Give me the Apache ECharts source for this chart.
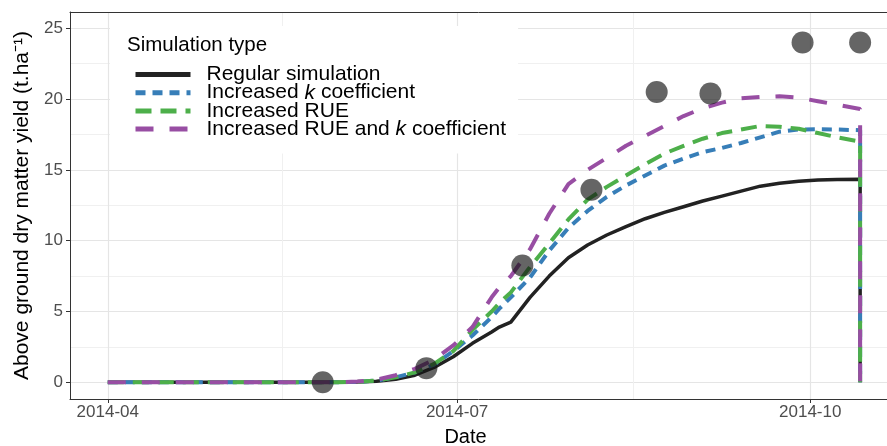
<!DOCTYPE html>
<html>
<head>
<meta charset="utf-8">
<script src="https://cdn.jsdelivr.net/npm/echarts@6/dist/echarts.min.js"></script>
<style>
html,body{margin:0;padding:0;background:#fff;}
#chart{width:887px;height:446px;}
</style>
</head>
<body>
<div id="chart"></div>
<script>
// ---- data ----
const simDates = ['2014-04-01','2014-04-11','2014-04-21','2014-05-01','2014-05-11','2014-05-21','2014-05-31','2014-06-05','2014-06-10','2014-06-15','2014-06-20','2014-06-25','2014-06-30','2014-07-05','2014-07-10','2014-07-12','2014-07-15','2014-07-20','2014-07-25','2014-07-30','2014-08-04','2014-08-09','2014-08-14','2014-08-19','2014-08-24','2014-08-29','2014-09-03','2014-09-08','2014-09-13','2014-09-18','2014-09-23','2014-09-28','2014-10-03','2014-10-08','2014-10-14','2014-10-14'];
const regularSim = [0,0,0,0,0,0,0,0.02,0.08,0.22,0.5,1.05,1.8,2.75,3.55,3.9,4.25,6.0,7.5,8.8,9.7,10.4,11.0,11.55,12.0,12.4,12.8,13.15,13.5,13.85,14.05,14.2,14.28,14.32,14.33,0];
const increasedK = [0,0,0,0,0,0,0,0.03,0.12,0.35,0.7,1.25,2.2,3.3,4.6,5.2,6.0,7.4,9.3,10.9,12.1,13.1,13.9,14.6,15.3,15.8,16.25,16.55,16.9,17.3,17.7,17.85,17.87,17.85,17.8,0];
const increasedRUE = [0,0,0,0,0,0,0,0.03,0.12,0.35,0.7,1.3,2.2,3.7,5.0,5.6,6.35,8.15,9.8,11.5,12.9,13.8,14.6,15.4,16.15,16.7,17.2,17.6,17.85,18.1,18.05,17.9,17.6,17.3,17.0,0];
const increasedRUEandK = [0,0,0,0,0,0,0,0.05,0.18,0.5,0.95,1.6,2.6,3.9,6.0,6.7,7.5,9.4,11.9,14.0,15.0,15.85,16.7,17.4,18.1,18.8,19.35,19.75,20.05,20.15,20.2,20.1,19.85,19.6,19.3,0];
const obsDates = ['2014-05-27','2014-06-23','2014-07-18','2014-08-05','2014-08-22','2014-09-05','2014-09-29','2014-10-14'];
const obsValues = [0, 1.0, 8.25, 13.6, 20.5, 20.4, 24.0, 24.0];
const seriesNames = ['Regular simulation','Increased k coefficient','Increased RUE','Increased RUE and k coefficient'];
const xTickLabels = ['2014-04','2014-07','2014-10'];
const yTickValues = [0,5,10,15,20,25];

// ---- helpers ----
const origin = Date.UTC(2014,3,1);
function dayOf(s){const p=s.split('-').map(Number);return (Date.UTC(p[0],p[1]-1,p[2]||1)-origin)/86400000;}
const xTickValues = xTickLabels.map(dayOf);
const xMinor = xTickValues.slice(1).map((v,i)=>(v+xTickValues[i])/2);
const yMinor = yTickValues.slice(1).map((v,i)=>(v+yTickValues[i])/2);
function pairs(dates, vals){return dates.map((d,i)=>[dayOf(d), vals[i]]);}

const FONT = 'Liberation Sans, Arial, sans-serif';
const xMin = -9.85, xMax = 203.0, yMin = -1.18, yMax = 26.15;

const chart = echarts.init(document.getElementById('chart'), null, {renderer:'canvas'});
const lineDefs = [
  {data: regularSim, color:'#222222', width:3.5, type:'solid'},
  {data: increasedK, color:'#377EB8', width:4, type:[10,7]},
  {data: increasedRUE, color:'#4DAF4A', width:4, type:[16,9]},
  {data: increasedRUEandK, color:'#984EA3', width:4, type:[18,16]}
];
const series = lineDefs.map((d,i)=>({
  name: seriesNames[i], type:'line', xAxisIndex:0, yAxisIndex:0,
  data: pairs(simDates, d.data), showSymbol:false, symbol:'none',
  lineStyle:{color:d.color, width:d.width, type:d.type},
  itemStyle:{color:d.color}, z:3+i
}));
series.push({
  name:'Observed', type:'scatter', xAxisIndex:0, yAxisIndex:0,
  data: pairs(obsDates, obsValues), symbolSize:22,
  itemStyle:{color:'rgba(20,20,20,0.82)'}, z:10
});

chart.setOption({
  animation:false,
  backgroundColor:'#fff',
  grid:{left:70, top:12, right:0, bottom:47, show:false, containLabel:false, outerBoundsMode:'none'},
  graphic:[{type:'text', left:127, top:35, z:100, style:{text:'Simulation type', font:'20.5px '+FONT, fill:'#000'}}],
  legend:{
    data: seriesNames, orient:'vertical', left:110, top:26,
    padding:[38,12,14,23], backgroundColor:'#fff',
    itemWidth:55, itemHeight:16, itemGap:-2.8,
    itemStyle:{opacity:0},
    lineStyle:{width:5},
    formatter: n => n.includes(' k ') ? n.split(' k ').map(s=>'{n|'+s+'}').join('{n| }{i|k}{n| }') : '{n|'+n+'}',
    textStyle:{fontFamily:FONT, fontSize:21, color:'#000', lineHeight:16, padding:[0,0,0,11],
      rich:{n:{fontFamily:FONT,fontSize:21,color:'#000',lineHeight:16}, i:{fontFamily:FONT,fontSize:21,color:'#000',fontStyle:'italic',lineHeight:16}}}
  },
  xAxis:[{
    type:'value', min:xMin, max:xMax, gridIndex:0, position:'bottom',
    name:'Date', nameLocation:'middle', nameGap:28,
    nameTextStyle:{fontFamily:FONT, fontSize:20, color:'#000', padding:[0,26,0,0]},
    axisLine:{show:true, onZero:false, lineStyle:{color:'#333', width:1}},
    axisTick:{show:true, length:4, customValues:xTickValues, lineStyle:{color:'#333'}},
    axisLabel:{customValues:xTickValues, margin:5, fontFamily:FONT, fontSize:17, color:'#4d4d4d',
      formatter: v => xTickLabels[xTickValues.indexOf(v)] || ''},
    splitLine:{show:true, lineStyle:{color:'#e5e5e5', width:1.2}}
  },{
    type:'value', min:xMin, max:xMax, gridIndex:0, position:'top',
    axisLine:{show:true, onZero:false, lineStyle:{color:'#333', width:1}}, axisLabel:{show:false},
    axisTick:{show:false, customValues:xMinor},
    splitLine:{show:true, lineStyle:{color:'#f0f0f0', width:1}}
  }],
  yAxis:[{
    type:'value', min:yMin, max:yMax, gridIndex:0, position:'left',
    name:'Above ground dry matter yield (t.ha\u207B\u00B9)', nameLocation:'middle', nameGap:36,
    nameTextStyle:{fontFamily:FONT, fontSize:21, color:'#000'},
    axisLine:{show:true, onZero:false, lineStyle:{color:'#333', width:1}},
    axisTick:{show:true, length:4, customValues:yTickValues, lineStyle:{color:'#333'}},
    axisLabel:{customValues:yTickValues, margin:7, fontFamily:FONT, fontSize:17, color:'#4d4d4d'},
    splitLine:{show:true, lineStyle:{color:'#e5e5e5', width:1.2}}
  },{
    type:'value', min:yMin, max:yMax, gridIndex:0, position:'right',
    axisLine:{show:false}, axisLabel:{show:false},
    axisTick:{show:false, customValues:yMinor},
    splitLine:{show:true, lineStyle:{color:'#f0f0f0', width:1}}
  }],
  series: series
});
</script>
</body>
</html>
